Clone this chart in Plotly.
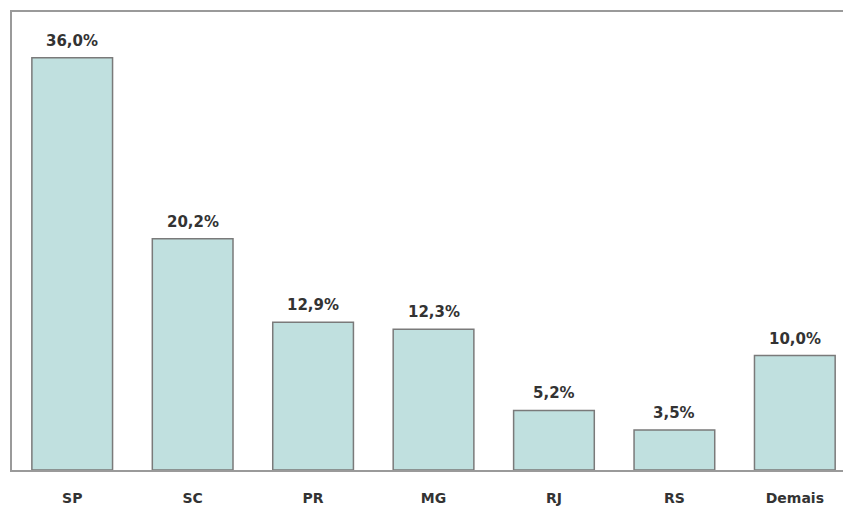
import plotly.graph_objects as go

categories = ["SP", "SC", "PR", "MG", "RJ", "RS", "Demais"]
values = [36.0, 20.2, 12.9, 12.3, 5.2, 3.5, 10.0]
labels = [f"{v:.1f}%".replace(".", ",") for v in values]

fig = go.Figure(go.Bar(
    x=categories,
    y=values,
    marker=dict(color="#c0e0df", line=dict(color="#7a7a7a", width=1.5)),
    width=0.67,
    hoverinfo="x+y",
))

for c, v, t in zip(categories, values, labels):
    fig.add_annotation(
        x=c, y=v, text=t, showarrow=False,
        yanchor="bottom", yshift=6,
        font=dict(family="DejaVu Sans", size=15, color="#333333", weight="bold"),
    )

fig.update_layout(
    width=843, height=506,
    margin=dict(l=12, r=0, t=12, b=36),
    paper_bgcolor="white", plot_bgcolor="white",
    showlegend=False,
    xaxis=dict(
        range=[-0.5, 6.4],
        showline=True, linecolor="#9a9a9a", linewidth=2, mirror=True,
        ticks="", showgrid=False,
        ticklabelstandoff=14,
        tickfont=dict(family="DejaVu Sans", size=14, color="#333333", weight="bold"),
    ),
    yaxis=dict(
        range=[0, 40],
        showline=True, linecolor="#9a9a9a", linewidth=2,
        showticklabels=False, ticks="", showgrid=False, zeroline=False,
    ),
)

fig.write_html(
    "out.html",
    config={"displayModeBar": False},
    post_script="document.body.style.margin='0';document.body.style.overflow='hidden';",
)
